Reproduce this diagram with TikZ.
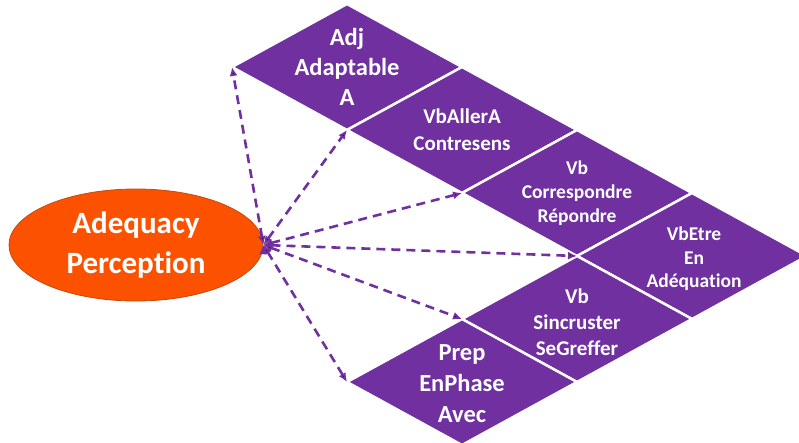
\documentclass[tikz,border=0pt]{standalone}
\usepackage{fontspec}
\setsansfont{Carlito}[Ligatures=NoCommon]
\usetikzlibrary{arrows.meta,shapes.geometric}

\definecolor{vpurple}{RGB}{112,48,160}
\definecolor{porange}{RGB}{252,82,0}
\definecolor{pborder}{RGB}{196,74,16}

\begin{document}
\begin{tikzpicture}[x=1pt,y=-1pt,<->,>={Latex[length=9pt,width=8pt]},
  rhomb/.style={diamond,fill=vpurple,draw=white,line width=2.5pt,
    minimum width=230pt,minimum height=126pt,inner sep=0pt,outer sep=0pt},
  word/.style={text=white,align=center,inner sep=0pt},
  perc node/.style={ellipse,fill=porange,draw=pborder,line width=0.8pt,
    minimum width=254pt,minimum height=112pt,inner sep=0pt,text=white,align=center,
    font=\sffamily\bfseries\fontsize{31}{40}\selectfont}]

  \useasboundingbox (0,0) rectangle (799,442);
  \clip (0,0) rectangle (799,442);

  % the diamonds, chained corner to corner
  \node[rhomb] (adj) at (347,67) {};
  \node[rhomb,anchor=north] (aller) at (adj.east) {};
  \node[rhomb,anchor=north] (corr) at (aller.east) {};
  \node[rhomb,anchor=north] (etre) at (corr.east) {};
  \node[rhomb,anchor=north] (incr) at (etre.west) {};
  \node[rhomb,anchor=north] (phase) at (incr.west) {};

  \node[word,font=\sffamily\bfseries\fontsize{24.5}{30}\selectfont] (adj t) at (adj) {Adj\\Adaptable\\A};
  \node[word,font=\sffamily\bfseries\fontsize{21}{27}\selectfont] (aller t) at (aller) {VbAllerA\\Contresens};
  \node[word,font=\sffamily\bfseries\fontsize{19.5}{24}\selectfont] (corr t) at (corr) {Vb\\Correspondre\\Répondre};
  \node[word,font=\sffamily\bfseries\fontsize{19.5}{23.5}\selectfont] (etre t) at ([xshift=2pt,yshift=-3pt]etre) {VbEtre\\En\\Adéquation};
  \node[word,font=\sffamily\bfseries\fontsize{21}{26}\selectfont] (incr t) at ([yshift=-3pt]incr) {Vb\\Sincruster\\SeGreffer};
  \node[word,font=\sffamily\bfseries\fontsize{24.5}{31}\selectfont] (phase t) at ([yshift=-2pt]phase) {Prep\\EnPhase\\Avec};

  \node[perc node] (perc) at (136,245) {Adequacy\\Perception};

  \path[draw=vpurple,line width=2.6pt,dash pattern=on 9pt off 6pt]
    (perc.east) edge (adj.west)
                edge (aller.west)
                edge (corr.west)
                edge (etre.west)
                edge (incr.west)
                edge (phase.west);
\end{tikzpicture}
\end{document}
